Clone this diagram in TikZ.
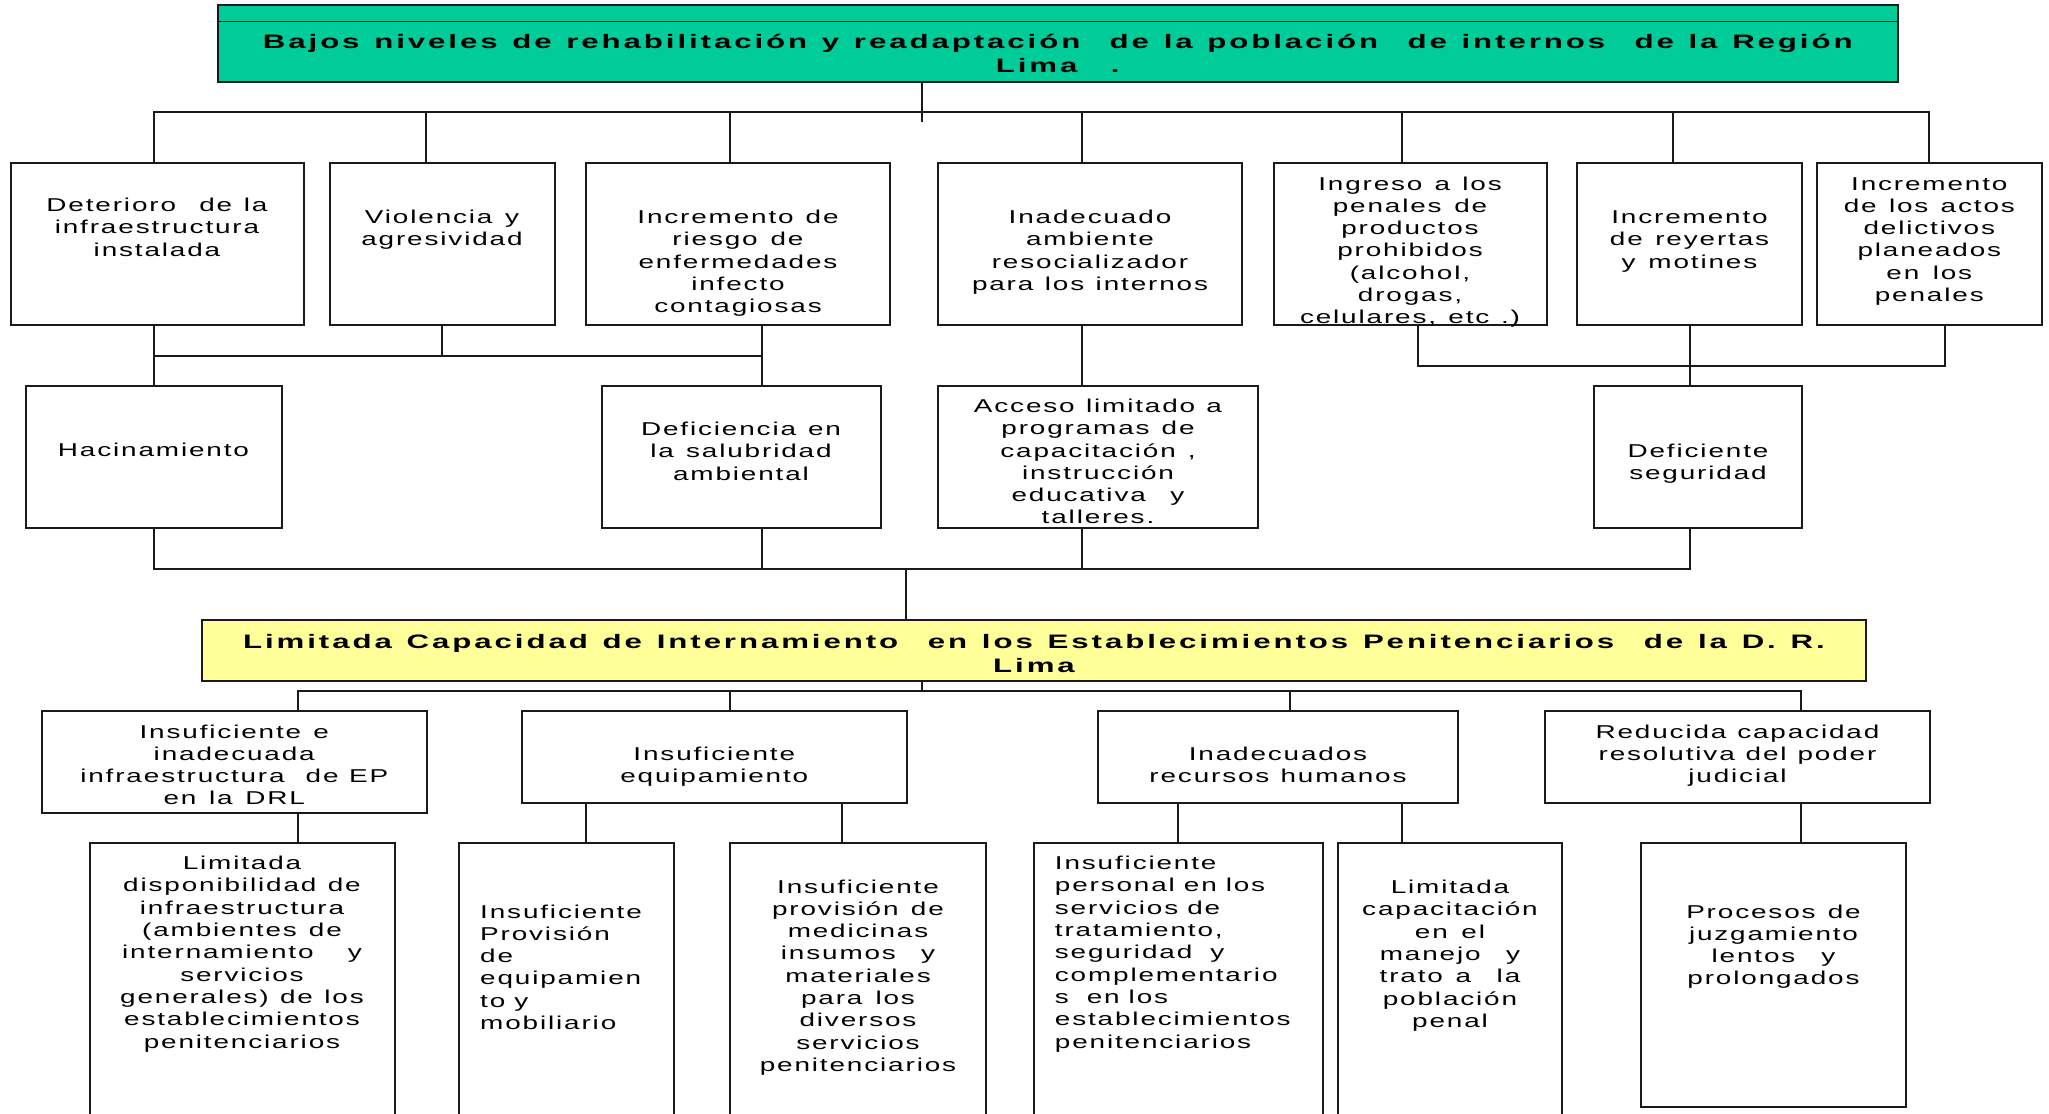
\documentclass[tikz,border=0pt]{standalone}
\usepackage{fontspec}
\setmainfont{Liberation Sans}[FakeStretch=1.5,LetterSpace=10]
\newfontfamily\headfont{Liberation Sans}[FakeStretch=1.6,LetterSpace=15]
\definecolor{headgreen}{HTML}{00CC99}
\definecolor{headyellow}{HTML}{FFFF99}
\definecolor{ink}{HTML}{1A1A1A}
% box from (x1,y1) to (x2,y2), y growing downwards
\newcommand\mkbox[6][]{%
  \node[box,#1,minimum width={(#5-#3)*1pt},minimum height={(#6-#4)*1pt}]
    (#2) at ({(#3+#5)/2},{(#4+#6)/2}) {};}
\newcommand\wordgap[1]{\spaceskip=#1 plus 1pt minus 1pt\relax}
\begin{document}
\begin{tikzpicture}[x=1pt,y=-1pt,
  box/.style={draw=ink,line width=2pt,inner sep=0pt,rectangle},
  txt/.style={inner sep=0pt,align=center,anchor=base,text width=420pt,
    font=\fontsize{18.6}{22.3}\selectfont,
    execute at begin node={\wordgap{9pt}}},
  txtl/.style={txt,align=flush left,anchor=base west},
  head/.style={inner sep=0pt,align=center,anchor=base,text width=1800pt,
    font=\headfont\fontsize{19.5}{24}\selectfont\bfseries,
    execute at begin node={\wordgap{12pt}}},
  link/.style={draw=ink,line width=2pt,line join=miter}]
\useasboundingbox (0,0) rectangle (2049,1113);
\clip (0,0) rectangle (2049,1113);

% ---------- effect ----------
\mkbox[fill=headgreen]{top}{217.5}{5.4}{1898}{82}
\coordinate (tl) at (0,21.4);
\draw[draw=ink,line width=1.5pt] (top.west |- tl) -- (top.east |- tl);
\node[head] (topt) at (1057.75,49) {Bajos niveles de rehabilitación y readaptación\ \ de la población\ \ de internos\ \ de la Región\\Lima .};

% ---------- first row of effects ----------
\mkbox{b1}{10.5}{163}{304}{325}
\mkbox{b2}{330}{163}{554.5}{325}
\mkbox{b3}{586}{163}{890}{325}
\mkbox{b4}{938}{163}{1242}{325}
\mkbox{b5}{1273.5}{163}{1546.5}{325}
\mkbox{b6}{1577}{163}{1802}{325}
\mkbox{b7}{1817}{163}{2041.6}{325}
\node[txt] (b1t) at (157,211.6) {Deterioro\ \ de la\\infraestructura\\instalada};
\node[txt] (b2t) at (442,223.4) {Violencia y\\agresividad};
\node[txt] (b3t) at (738,223.4) {Incremento de\\riesgo de\\enfermedades\\infecto\\contagiosas};
\node[txt] (b4t) at (1090,223.4) {Inadecuado\\ambiente\\resocializador\\para los internos};
\node[txt] (b5t) at (1410,190) {Ingreso a los\\penales de\\productos\\prohibidos\\(alcohol,\\drogas,\\celulares, etc .)};
\node[txt] (b6t) at (1689.5,223.4) {Incremento\\de reyertas\\y motines};
\node[txt] (b7t) at (1929.3,190) {Incremento\\de los actos\\delictivos\\planeados\\en los\\penales};

% ---------- second row of effects ----------
\mkbox{h}{25.5}{386}{281.5}{528}
\mkbox{d}{601.5}{386}{880.5}{528}
\mkbox{a}{938}{386}{1257.8}{528}
\mkbox{s}{1593.6}{386}{1802}{528}
\node[txt] (ht) at (153.5,456.5) {Hacinamiento};
\node[txt] (dt) at (741,435.6) {Deficiencia en\\la salubridad\\ambiental};
\node[txt] (at) at (1098,412.4) {Acceso limitado a\\programas de\\capacitación ,\\instrucción\\educativa\ \ y\\talleres.};
\node[txt] (st) at (1698,457) {Deficiente\\seguridad};

% ---------- central problem ----------
\mkbox[fill=headyellow]{yl}{202}{620}{1866}{681}
\node[head] (ylt) at (1034,648) {Limitada Capacidad de Internamiento\ \ en los Establecimientos Penitenciarios\ \ de la D. R.\\Lima};

% ---------- direct causes ----------
\mkbox{A}{42}{711}{426.5}{813}
\mkbox{B}{522}{711}{906.5}{803}
\mkbox{C}{1098}{711}{1458}{803}
\mkbox{D}{1545}{711}{1930}{803}
\node[txt] (At) at (234.25,738) {Insuficiente e\\inadecuada\\infraestructura\ \ de EP\\en la DRL};
\node[txt] (Bt) at (714.25,760.6) {Insuficiente\\equipamiento};
\node[txt] (Ct) at (1278,760.6) {Inadecuados\\recursos humanos};
\node[txt] (Dt) at (1737.5,738) {Reducida capacidad\\resolutiva del poder\\judicial};

% ---------- indirect causes ----------
\mkbox{r1}{89.5}{843}{394.5}{1140}
\mkbox{r2}{458.5}{843}{674}{1140}
\mkbox{r3}{729.6}{843}{986}{1140}
\mkbox{r4}{1034}{843}{1322.5}{1140}
\mkbox{r5}{1338}{843}{1561.5}{1140}
\mkbox{r6}{1641}{843}{1906}{1107}
\node[txt] (r1t) at (242,869.6) {Limitada\\disponibilidad de\\infraestructura\\(ambientes de\\internamiento\ \ \ y\\servicios\\generales) de los\\establecimientos\\penitenciarios};
\node[txtl] (r2t) at (480,918) {Insuficiente\\Provisión\\de\\equipamien\\to y\\mobiliario};
\node[txt] (r3t) at (858,893) {Insuficiente\\provisión de\\medicinas\\insumos\ \ y\\materiales\\para los\\diversos\\servicios\\penitenciarios};
\node[txtl] (r4t) at (1054.7,869.6) {Insuficiente\\personal en los\\servicios de\\tratamiento,\\seguridad\ \ y\\complementario\\s\ \ en los\\establecimientos\\penitenciarios};
\node[txt] (r5t) at (1450,893.6) {Limitada\\capacitación\\en el\\manejo\ \ y\\trato a\ \ la\\población\\penal};
\node[txt] (r6t) at (1773.5,918) {Procesos de\\juzgamiento\\lentos\ \ y\\prolongados};

% ---------- connectors: effect tree ----------
\coordinate (stub) at (922,122.5);
\draw[link] (stub |- top.south) -- (stub);
\coordinate (k1) at (153.5,112);  \coordinate (k2) at (426,112);
\coordinate (k3) at (729.5,112);  \coordinate (k4) at (1082,112);
\coordinate (k5) at (1401.5,112); \coordinate (k6) at (1673,112);
\coordinate (k7) at (1929,112);
\draw[link] (k1 |- b1.north) -- (k1) -- (k7) -- (k7 |- b7.north);
\draw[link] (k2) -- (k2 |- b2.north);
\draw[link] (k3) -- (k3 |- b3.north);
\draw[link] (k4) -- (k4 |- b4.north);
\draw[link] (k5) -- (k5 |- b5.north);
\draw[link] (k6) -- (k6 |- b6.north);

\coordinate (m1) at (153.5,356); \coordinate (m2) at (441.5,356);
\coordinate (m3) at (761.6,356); \coordinate (m4) at (1082,356);
\draw[link] (m1 |- b1.south) -- (m1 |- h.north);
\draw[link] (m1) -- (m3);
\draw[link] (m2 |- b2.south) -- (m2);
\draw[link] (m3 |- b3.south) -- (m3 |- d.north);
\draw[link] (m4 |- b4.south) -- (m4 |- a.north);

\coordinate (n1) at (1418,366); \coordinate (n2) at (1689.6,366);
\coordinate (n3) at (1945,366);
\draw[link] (n1 |- b5.south) -- (n1) -- (n3) -- (n3 |- b7.south);
\draw[link] (n2 |- b6.south) -- (n2 |- s.north);

\coordinate (p1) at (153.5,569); \coordinate (p2) at (761.6,569);
\coordinate (p3) at (1082,569);  \coordinate (p4) at (1689.6,569);
\coordinate (p0) at (906,569);
\draw[link] (p1 |- h.south) -- (p1) -- (p4) -- (p4 |- s.south);
\draw[link] (p2 |- d.south) -- (p2);
\draw[link] (p3 |- a.south) -- (p3);
\draw[link] (p0) -- (p0 |- yl.north);

% ---------- connectors: cause tree ----------
\coordinate (q0) at (921.6,691);
\coordinate (q1) at (298,691);  \coordinate (q2) at (729.6,691);
\coordinate (q3) at (1290,691); \coordinate (q4) at (1801,691);
\draw[link] (q0 |- yl.south) -- (q0);
\draw[link] (q1 |- A.north) -- (q1) -- (q4) -- (q4 |- D.north);
\draw[link] (q2) -- (q2 |- B.north);
\draw[link] (q3) -- (q3 |- C.north);

\coordinate (u1) at (298,0);  \coordinate (u2) at (586,0);
\coordinate (u3) at (842,0);  \coordinate (u4) at (1178,0);
\coordinate (u5) at (1401.5,0); \coordinate (u6) at (1801,0);
\draw[link] (u1 |- A.south) -- (u1 |- r1.north);
\draw[link] (u2 |- B.south) -- (u2 |- r2.north);
\draw[link] (u3 |- B.south) -- (u3 |- r3.north);
\draw[link] (u4 |- C.south) -- (u4 |- r4.north);
\draw[link] (u5 |- C.south) -- (u5 |- r5.north);
\draw[link] (u6 |- D.south) -- (u6 |- r6.north);
\end{tikzpicture}
\end{document}
